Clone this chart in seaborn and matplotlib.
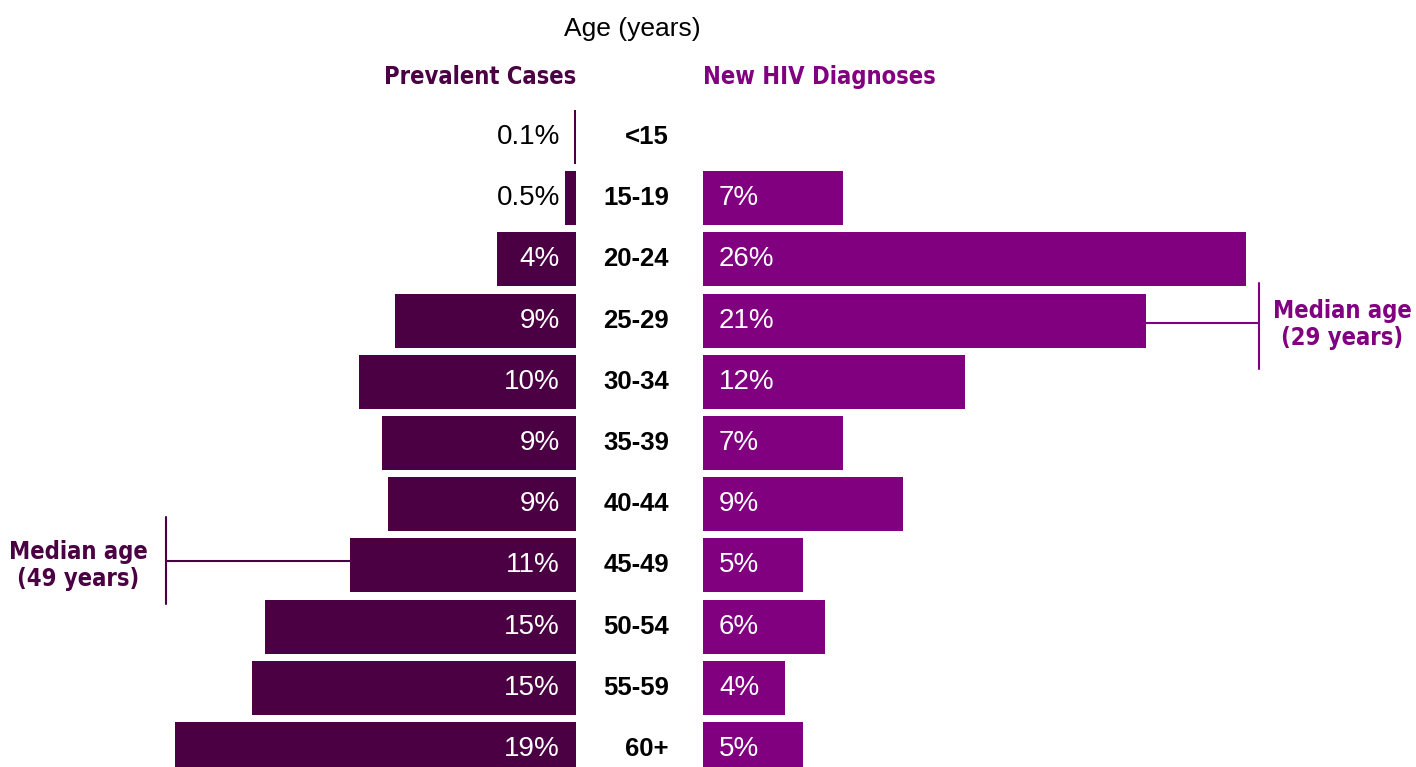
import matplotlib
matplotlib.use("Agg")
import matplotlib.pyplot as plt
import matplotlib.transforms as mtransforms
from matplotlib import font_manager
import seaborn as sns
import pandas as pd

# ---------------------------------------------------------
# DATA
# ---------------------------------------------------------
age_groups = ["<15", "15-19", "20-24", "25-29", "30-34", "35-39",
              "40-44", "45-49", "50-54", "55-59", "60+"]
prevalent = [0.1, 0.52, 3.71, 8.5, 10.19, 9.11, 8.83, 10.61, 14.6, 15.21, 18.83]
new_dx = [0, 6.57, 25.5, 20.8, 12.3, 6.57, 9.39, 4.69, 5.73, 3.85, 4.69]
prevalent_labels = ["0.1%", "0.5%", "4%", "9%", "10%", "9%", "9%", "11%", "15%", "15%", "19%"]
new_dx_labels = ["", "7%", "26%", "21%", "12%", "7%", "9%", "5%", "6%", "4%", "5%"]

C_PREV = "#4a0042"
C_NEW = "#800080"

REG = ["Liberation Sans", "DejaVu Sans"]

# busca una font estreta (condensed) en negreta; si no n'hi ha, Roboto
cond = None
for f in font_manager.fontManager.ttflist:
    narrow = ("Narrow" in f.name or "Condensed" in f.name or
              f.stretch in ("condensed", "semi-condensed", "extra-condensed"))
    bold = f.weight in ("bold", 700, 600, "semibold", "demibold") or \
        (isinstance(f.weight, int) and f.weight >= 600)
    if narrow and bold and f.style == "normal":
        cond = f.fname
        break

def narrow_font(size):
    if cond:
        return font_manager.FontProperties(fname=cond, size=size)
    return font_manager.FontProperties(family=["Roboto", "DejaVu Sans"],
                                       weight="bold", size=size * 0.9)

df = pd.DataFrame({"AGE": age_groups, "PREV": prevalent, "NEW": new_dx})

sns.set_style("white")
plt.rcParams["font.family"] = REG

W, H = 1416, 767
PX = 21.3          # pixels per percent
ROW = 61.2         # pixels per row
TOP = 137          # centre of first row
ZERO_L, ZERO_R = 576, 703

fig = plt.figure(figsize=(W / 100, H / 100), dpi=100)
ax_l = fig.add_axes([0, 0, ZERO_L / W, 1])
ax_r = fig.add_axes([ZERO_R / W, 0, (W - ZERO_R) / W, 1])

sns.barplot(data=df, x="PREV", y="AGE", orient="h", color=C_PREV,
            saturation=1, width=0.88, linewidth=0, ax=ax_l)
sns.barplot(data=df, x="NEW", y="AGE", orient="h", color=C_NEW,
            saturation=1, width=0.88, linewidth=0, ax=ax_r)

ylim = ((H - TOP) / ROW, -TOP / ROW)
ax_l.set_xlim(ZERO_L / PX, 0)
ax_r.set_xlim(0, (W - ZERO_R) / PX)
for ax in (ax_l, ax_r):
    ax.set_ylim(*ylim)
    ax.axis("off")

# value labels
pad = 16 / PX
for i, (v, lab) in enumerate(zip(prevalent, prevalent_labels)):
    col = "white" if v > 2 else "black"
    ax_l.text(pad, i, lab, ha="right", va="center", color=col,
              fontsize=20, family=REG)
for i, (v, lab) in enumerate(zip(new_dx, new_dx_labels)):
    if lab:
        ax_r.text(pad, i, lab, ha="left", va="center", color="white",
                  fontsize=20, family=REG)

# age labels in the middle
tr = mtransforms.blended_transform_factory(fig.transFigure, ax_l.transData)
for i, a in enumerate(age_groups):
    ax_l.text(669 / W, i, a, transform=tr, ha="right", va="center",
              fontsize=18.5, fontweight="bold", family=REG, color="black")

# headers
fig.text(632 / W, 1 - 29 / H, "Age (years)", ha="center", va="center",
         fontsize=19, family=REG, color="black")
fig.text(ZERO_L / W, 1 - 77 / H, "Prevalent Cases", ha="right", va="center",
         fontproperties=narrow_font(17), color=C_PREV)
fig.text(ZERO_R / W, 1 - 77 / H, "New HIV Diagnoses", ha="left", va="center",
         fontproperties=narrow_font(17), color=C_NEW)

# median age callouts
med_l = age_groups.index("45-49")
xl = (ZERO_L - 166) / PX
ax_l.plot([prevalent[med_l], xl], [med_l - 0.07, med_l - 0.07], color=C_PREV, lw=1.5)
ax_l.plot([xl, xl], [med_l - 0.79, med_l + 0.63], color=C_PREV, lw=1.5)
ax_l.text((ZERO_L - 78) / PX, med_l, "Median age\n(49 years)", ha="center", va="center",
          fontproperties=narrow_font(17), color=C_PREV, linespacing=1.15)

med_r = age_groups.index("25-29")
xr = (1259 - ZERO_R) / PX
ax_r.plot([new_dx[med_r], xr], [med_r + 0.04, med_r + 0.04], color=C_NEW, lw=1.5)
ax_r.plot([xr, xr], [med_r - 0.61, med_r + 0.79], color=C_NEW, lw=1.5)
ax_r.text((1342 - ZERO_R) / PX, med_r + 0.07, "Median age\n(29 years)", ha="center", va="center",
          fontproperties=narrow_font(17), color=C_NEW, linespacing=1.15)

fig.savefig("out.png", dpi=100)
plt.close(fig)
